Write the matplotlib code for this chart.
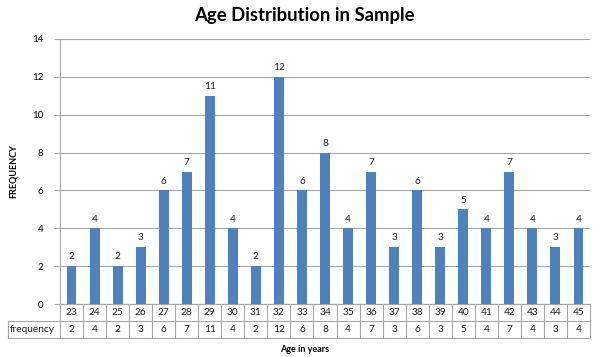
import matplotlib
matplotlib.use("Agg")
import matplotlib.pyplot as plt
import matplotlib.transforms as mtransforms

plt.rcParams['font.family'] = ['Lato', 'DejaVu Sans']

# data
ages = [23, 24, 25, 26, 27, 28, 29, 30, 31, 32, 33, 34, 35, 36, 37, 38, 39, 40, 41, 42, 43, 44, 45]
frequency = [2, 4, 2, 3, 6, 7, 11, 4, 2, 12, 6, 8, 4, 7, 3, 6, 3, 5, 4, 7, 4, 3, 4]

W, H = 600, 357
fig = plt.figure(figsize=(W / 100, H / 100), dpi=100)
ax = fig.add_axes([60 / W, 1 - 304 / H, 530 / W, 265 / H])

pos = list(range(len(ages)))
bar_color = '#4F81BD'
grid_color = '#A6A6A6'
ax.bar(pos, frequency, width=0.43, color=bar_color, zorder=3)

for x, v in zip(pos, frequency):
    ax.text(x, v + 0.25, str(v), ha='center', va='bottom', fontsize=7.3, color='#222222')

ax.set_xlim(-0.5, len(ages) - 0.5)
ax.set_ylim(0, 14)
ax.set_yticks(range(0, 15, 2))
ax.tick_params(axis='y', labelsize=7, length=4, color=grid_color, pad=8)
ax.set_xticks([])
ax.yaxis.grid(True, color=grid_color, linewidth=0.8, zorder=0)
for s in ['top', 'right']:
    ax.spines[s].set_visible(False)
ax.spines['left'].set_color(grid_color)
ax.spines['bottom'].set_color(grid_color)

# data table under the chart
tr = mtransforms.blended_transform_factory(ax.transData, fig.transFigure)
def fy(py):
    return 1 - py / H

step = len(ages) / 530.0
x_left = -0.5 - (60 - 8) * step
x_right = len(ages) - 0.5
line_kw = dict(color=grid_color, linewidth=0.8, transform=tr, clip_on=False)

ax.plot([x_left, x_right], [fy(321), fy(321)], **line_kw)
ax.plot([x_left, x_right], [fy(338), fy(338)], **line_kw)
ax.plot([x_left, x_left], [fy(321), fy(338)], **line_kw)
for i in range(len(ages) + 1):
    b = i - 0.5
    ax.plot([b, b], [fy(304), fy(338)], **line_kw)

for x, a, v in zip(pos, ages, frequency):
    ax.text(x, fy(312.5), str(a), ha='center', va='center', fontsize=7.3, transform=tr, color='#222222')
    ax.text(x, fy(329.5), str(v), ha='center', va='center', fontsize=7.3, transform=tr, color='#222222')
ax.text(x_left + 0.08, fy(329.5), 'frequency', ha='left', va='center', fontsize=7.3, transform=tr, color='#222222')

fig.text(304 / W, fy(16), 'Age Distribution in Sample', ha='center', va='center',
         fontsize=13.3, fontweight='bold')
fig.text(13 / W, fy(171), 'FREQUENCY', ha='center', va='center', rotation=90,
         fontsize=6.5, fontweight='bold')
fig.text(305 / W, fy(350), 'Age in years', ha='center', va='center',
         fontsize=6.5, fontweight='bold')

fig.savefig('out.png', dpi=100)
